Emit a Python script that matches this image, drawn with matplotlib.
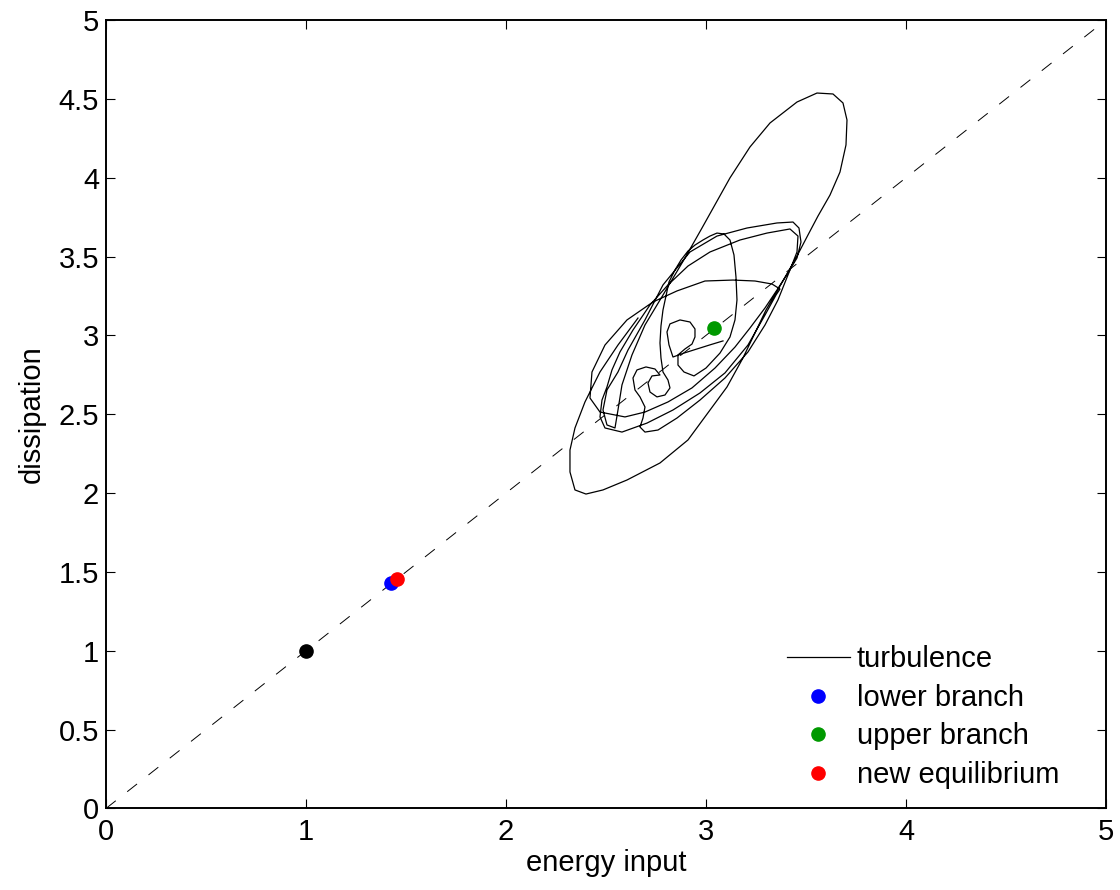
import matplotlib
matplotlib.use("Agg")
import matplotlib.pyplot as plt

plt.rcParams['font.family'] = ['Liberation Sans', 'DejaVu Sans']
plt.rcParams['lines.scale_dashes'] = False

# Trajectory of the turbulent state in the (energy input, dissipation) plane
turb_x = [3.085, 3.02, 2.955, 2.89, 2.835, 2.815, 2.805, 2.82, 2.87, 2.92,
          2.945, 2.945, 2.93, 2.895, 2.86, 2.86, 2.89, 2.94, 3.0, 3.07,
          3.12, 3.145, 3.155, 3.15, 3.14, 3.12, 3.09, 3.055,
          3.02, 2.985, 2.945, 2.91, 2.875, 2.845, 2.815, 2.80, 2.785, 2.775,
          2.77, 2.775, 2.785,
          2.81, 2.82, 2.795, 2.755, 2.72, 2.71, 2.73, 2.77, 2.745, 2.70,
          2.655, 2.635, 2.645, 2.67, 2.695, 2.685, 2.67, 2.695, 2.76, 2.855,
          2.97, 3.095, 3.21, 3.295, 3.36, 3.42, 3.455,
          3.46, 3.42, 3.305, 3.17, 3.02, 2.91, 2.81, 2.72, 2.635, 2.57,
          2.53, 2.505, 2.48, 2.47, 2.495, 2.58, 2.705, 2.835, 2.97, 3.095,
          3.21, 3.295, 3.35, 3.37, 3.33, 3.245, 3.135, 2.995, 2.855, 2.735,
          2.605, 2.495, 2.43, 2.42, 2.47,
          2.595, 2.695, 2.81, 2.93, 3.045, 3.145, 3.22, 3.295, 3.355, 3.41,
          3.455, 3.475, 3.465, 3.435, 3.355, 3.205, 3.055, 2.92, 2.785, 2.695,
          2.61, 2.56,
          2.505, 2.485, 2.505, 2.545, 2.56, 2.58, 2.63,
          2.695, 2.785, 2.895, 2.98, 3.05, 3.12, 3.22, 3.32, 3.455, 3.555,
          3.635, 3.685, 3.705, 3.70, 3.67, 3.62, 3.56, 3.51, 3.45, 3.37,
          3.30, 3.235, 3.185, 3.105, 3.02, 2.91, 2.77, 2.605, 2.485, 2.40,
          2.345, 2.32, 2.32, 2.345, 2.395, 2.47, 2.56, 2.66]
turb_y = [2.965, 2.940, 2.914, 2.888, 2.863, 2.940, 3.022, 3.073, 3.098, 3.085,
          3.041, 2.990, 2.945, 2.914, 2.876, 2.812, 2.768, 2.743, 2.793, 2.888,
          2.990, 3.098, 3.225, 3.370, 3.510, 3.605, 3.643, 3.649,
          3.630, 3.605, 3.573, 3.535, 3.478, 3.415, 3.339, 3.250, 3.161, 3.060,
          2.952, 2.857, 2.768,
          2.717, 2.667, 2.622, 2.610, 2.641, 2.698, 2.743, 2.749, 2.787, 2.800,
          2.781, 2.730, 2.654, 2.610, 2.546, 2.476, 2.419, 2.387, 2.400, 2.476,
          2.590, 2.730, 2.895, 3.066, 3.225, 3.415, 3.529,
          3.630, 3.675, 3.649, 3.605, 3.529, 3.440, 3.320, 3.193, 3.034, 2.895,
          2.781, 2.673, 2.590, 2.483, 2.413, 2.387, 2.444, 2.527, 2.635, 2.762,
          2.939, 3.129, 3.256, 3.294, 3.326, 3.345, 3.351, 3.345, 3.282, 3.212,
          3.098, 2.939, 2.768, 2.603, 2.514,
          2.483, 2.514, 2.578, 2.667, 2.793, 2.926, 3.047, 3.174, 3.288, 3.396,
          3.491, 3.592, 3.681, 3.719, 3.713, 3.681, 3.630, 3.529, 3.320, 3.098,
          2.907, 2.768,
          2.654, 2.527, 2.432, 2.413, 2.527, 2.686, 2.876,
          3.066, 3.256, 3.491, 3.681, 3.840, 3.999, 4.195, 4.347, 4.480, 4.537,
          4.531, 4.474, 4.366, 4.208, 4.036, 3.890, 3.757, 3.637, 3.491, 3.313,
          3.161, 2.990, 2.857, 2.673, 2.527, 2.337, 2.191, 2.083, 2.020, 1.994,
          2.020, 2.134, 2.273, 2.413, 2.578, 2.768, 2.939, 3.110]

# Equilibrium states
laminar = (1.0, 1.0)
lower_branch = (1.425, 1.43)
upper_branch = (3.04, 3.047)
new_equilibrium = (1.455, 1.455)

xticks = [0, 1, 2, 3, 4, 5]
yticks = [0, 0.5, 1, 1.5, 2, 2.5, 3, 3.5, 4, 4.5, 5]
ytick_labels = ['0', '0.5', '1', '1.5', '2', '2.5', '3', '3.5', '4', '4.5', '5']

FS = 21

fig = plt.figure(figsize=(11.2, 8.9), dpi=100)
ax = fig.add_axes([0.0946, 0.0916, 0.8929, 0.8859])

ax.plot([0, 5], [0, 5], color='black', lw=0.7, linestyle=(0, (9, 10.5)))
ax.plot(turb_x, turb_y, color='black', lw=0.9, label='turbulence')
ms = 9.5
ax.plot([laminar[0]], [laminar[1]], 'o', color='black', ms=ms)
ax.plot([lower_branch[0]], [lower_branch[1]], 'o', color='#0000ff', ms=ms,
        label='lower branch')
ax.plot([upper_branch[0]], [upper_branch[1]], 'o', color='#009900', ms=ms,
        label='upper branch')
ax.plot([new_equilibrium[0]], [new_equilibrium[1]], 'o', color='#ff0000', ms=ms,
        label='new equilibrium')

ax.set_xlim(0, 5)
ax.set_ylim(0, 5)
ax.set_xticks(xticks)
ax.set_xticklabels([str(t) for t in xticks])
ax.set_yticks(yticks)
ax.set_yticklabels(ytick_labels)
ax.tick_params(direction='in', length=6.5, width=0.8, labelsize=FS,
               top=True, right=True)
ax.tick_params(axis='x', pad=7)
ax.tick_params(axis='y', pad=5)
for s in ax.spines.values():
    s.set_linewidth(1.4)

ax.set_xlabel('energy input', fontsize=FS, labelpad=2)
ax.set_ylabel('dissipation', fontsize=FS, labelpad=9)

leg = ax.legend(loc='lower left', bbox_to_anchor=(0.681, 0.025), frameon=False,
                fontsize=FS, handlelength=2.16, handletextpad=0.24,
                labelspacing=0.36, borderaxespad=0.0, borderpad=0.0)

fig.savefig('out.png', dpi=100)
